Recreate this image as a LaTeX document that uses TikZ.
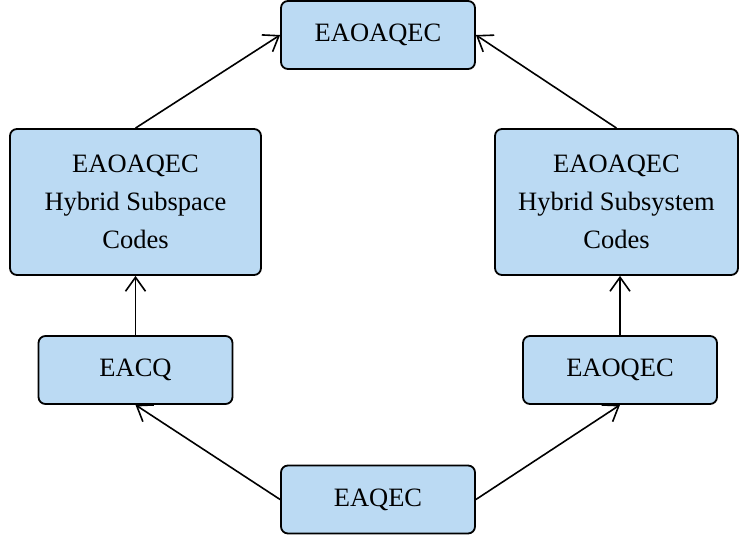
\documentclass[tikz,border=0pt]{standalone}
\usepackage{fontspec}
\setmainfont{Liberation Serif}
\usetikzlibrary{arrows.meta}
\definecolor{boxblue}{RGB}{187,218,243}

\begin{document}
\begin{tikzpicture}[
        x=1pt, y=-1pt,
        codebox/.style={draw=black, fill=boxblue, line width=1.8pt, rounded corners=7pt,
            inner sep=0pt, align=center, font=\fontsize{26.5}{38}\selectfont},
        small box/.style={codebox, minimum width=194pt, minimum height=68pt},
        big box/.style={codebox, minimum height=146pt},
        flow/.style={line width=1.6pt, ->, >={Straight Barb[length=14pt, width=20pt, line width=1.6pt]}}]

    \useasboundingbox (0,0) rectangle (740,540);

    % boxes
    \node[small box] (eaoaqec) at (378,35) {EAOAQEC};
    \node[big box, minimum width=251pt] (subspace) at (135.5,202) {EAOAQEC\\Hybrid Subspace\\Codes};
    \node[big box, minimum width=243pt] (subsystem) at (616.5,202) {EAOAQEC\\Hybrid Subsystem\\Codes};
    \node[small box] (eacq) at (135.5,370) {EACQ};
    \node[small box] (eaoqec) at (620,370) {EAOQEC};
    \node[small box] (eaqec) at (378,499.5) {EAQEC};

    % arrows
    \draw[flow] (eaqec.west) -- (eacq.south);
    \draw[flow] (eaqec.east) -- (eaoqec.south);
    \draw[flow] (eacq.north) -- (subspace.south);
    \draw[flow] (eaoqec.north) -- (eaoqec.north |- subsystem.south);
    \draw[flow] (subspace.north) -- (eaoaqec.west);
    \draw[flow] (subsystem.north) -- (eaoaqec.east);
\end{tikzpicture}
\end{document}
